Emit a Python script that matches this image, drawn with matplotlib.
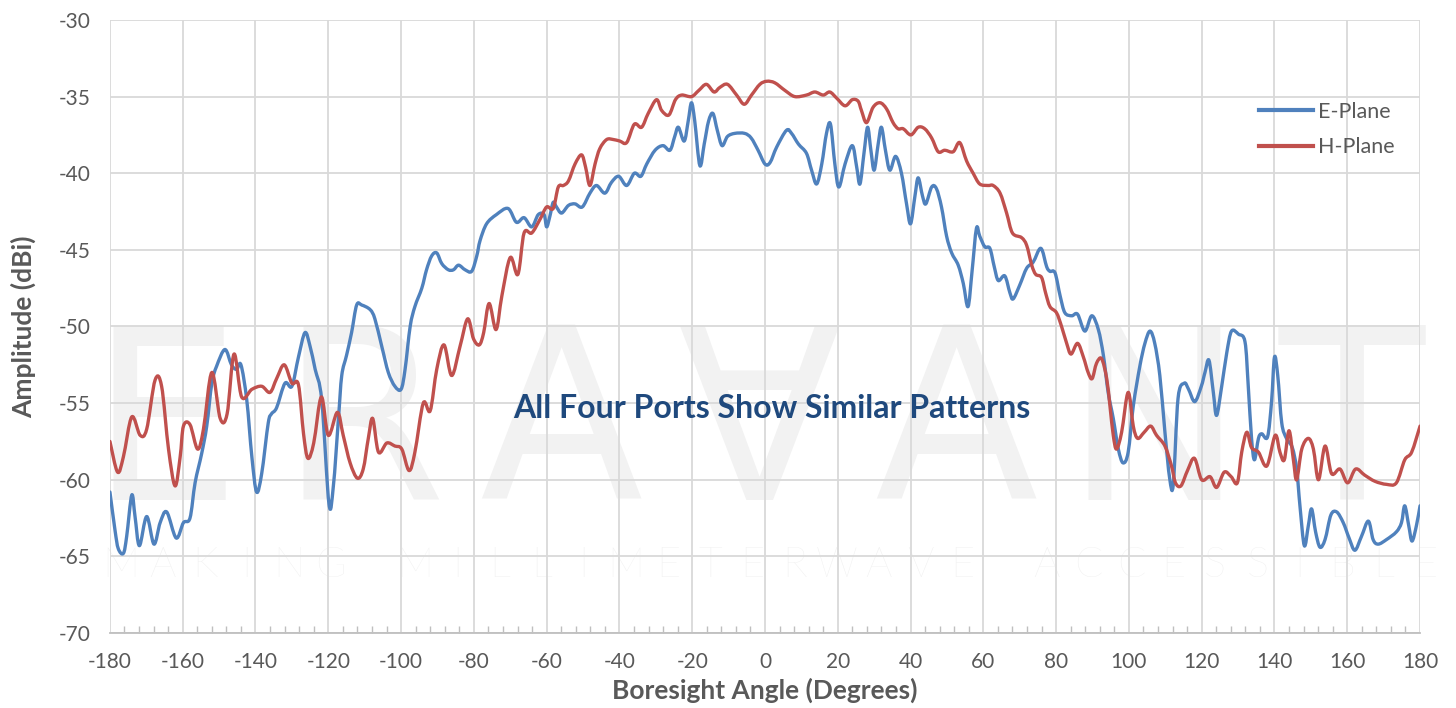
import numpy as np
import matplotlib
matplotlib.use("Agg")
import matplotlib.pyplot as plt
from matplotlib.path import Path
from matplotlib.patches import PathPatch
from matplotlib.lines import Line2D

plt.rcParams['font.family'] = ['Lato', 'DejaVu Sans']
plt.rcParams['axes.unicode_minus'] = False

# ---- measured pattern, angle (deg) / amplitude (dBi) ----
e_angle = [-180, -178.6, -177.7, -176.3, -175.4, -174.0, -173.1, -171.9, -169.9, -167.9,
           -166.2, -164.4, -161.8, -159.8, -158.0, -156.6, -154.8, -153.4, -152.0, -150.7,
           -148.4, -146.6, -145.2, -144.0, -142.4, -141.0, -139.7, -138.3, -136.5, -135.6,
           -134.2, -131.9, -130.0, -128.2, -126.4, -125.0, -123.6, -121.8, -119.8, -118.6,
           -117.2, -116.3, -115.0, -113.6, -112.2, -110.8, -108.5, -107.2, -105.3, -103.5,
           -101.7, -100.0, -98.9, -97.5, -96.2, -94.3, -93.0, -91.6, -90.2, -88.8,
           -87.0, -85.6, -84.2, -82.4, -80.6, -79.2, -78.3, -76.5, -73.8, -70.6,
           -68.3, -66.2, -64.1, -62.3, -60.7, -60.0, -59.1, -58.2, -57.3, -55.9,
           -54.0, -52.2, -50.2, -48.1, -46.3, -44.0, -42.2, -40.2, -38.0, -35.9,
           -34.1, -32.5, -30.2, -28.0, -26.1, -24.8, -23.8, -22.2, -21.1, -20.2,
           -19.3, -17.9, -16.7, -15.5, -14.3, -13.1, -11.8, -10.3, -8.3, -5.6,
           -3.8, -1.9, 0.0, 1.4, 3.2, 5.9, 7.3, 9.2, 11.4, 12.8,
           14.2, 15.6, 16.9, 18.0, 19.2, 20.3, 22.0, 24.0, 25.2, 26.1,
           27.2, 28.2, 29.1, 30.0, 31.1, 32.0, 33.1, 34.3, 35.9, 37.5,
           38.9, 40.0, 41.2, 42.1, 43.3, 44.2, 45.8, 47.1, 48.5, 49.9,
           51.3, 53.1, 54.5, 55.8, 56.9, 58.1, 59.0, 60.4, 61.8, 63.0,
           64.1, 65.9, 67.3, 68.2, 70.0, 71.9, 73.7, 75.8, 77.4, 78.3,
           79.7, 81.1, 82.4, 84.3, 85.9, 87.9, 89.8, 91.6, 93.0, 94.3,
           95.7, 97.1, 98.4, 99.8, 101.2, 103.0, 104.4, 105.8, 107.1, 108.5,
           109.9, 111.2, 112.2, 113.5, 115.2, 116.4, 118.1, 119.9, 120.9, 122.0,
           123.2, 124.1, 125.5, 126.9, 128.2, 130.1, 131.9, 132.8, 133.7, 134.5,
           135.6, 136.5, 138.1, 139.2, 140.0, 140.9, 142.0, 143.3, 144.9, 146.1,
           147.0, 148.2, 149.3, 150.2, 151.3, 152.5, 153.9, 155.5, 157.1, 158.9,
           160.5, 162.1, 163.9, 165.8, 167.1, 168.5, 170.8, 173.5, 174.9, 175.8,
           176.9, 177.8, 179.0, 180.0]
e_amp = [-60.8, -63.3, -64.5, -64.8, -63.7, -61.0, -62.4, -64.3, -62.4, -64.2,
         -62.8, -62.1, -63.8, -62.8, -62.5, -60.2, -58.3, -56.5, -53.7, -52.6,
         -51.5, -52.5, -52.8, -52.5, -54.8, -58.5, -60.8, -59.6, -56.3, -55.7,
         -55.3, -53.7, -53.9, -52.0, -50.4, -51.3, -52.8, -54.8, -61.6, -60.4,
         -56.0, -53.2, -51.9, -50.4, -48.6, -48.6, -48.9, -49.5, -51.3, -53.0,
         -53.9, -54.1, -52.8, -50.0, -48.7, -47.5, -46.3, -45.4, -45.2, -45.9,
         -46.3, -46.3, -46.0, -46.3, -46.4, -45.4, -44.4, -43.3, -42.7, -42.3,
         -43.2, -42.9, -43.5, -42.7, -42.7, -43.5, -42.8, -41.9, -42.2, -42.6,
         -42.1, -42.0, -42.2, -41.3, -40.8, -41.3, -40.6, -40.2, -40.8, -40.0,
         -40.2, -39.4, -38.5, -38.2, -38.5, -37.6, -37.0, -37.9, -36.6, -35.4,
         -36.6, -39.5, -38.1, -36.6, -36.1, -37.2, -38.2, -37.6, -37.4, -37.4,
         -37.7, -38.5, -39.4, -39.3, -38.3, -37.2, -37.4, -38.1, -38.7, -39.8,
         -40.7, -39.4, -37.4, -36.8, -39.4, -40.9, -39.4, -38.2, -39.6, -40.7,
         -38.7, -37.0, -38.5, -39.8, -38.1, -37.0, -38.5, -39.8, -38.9, -40.0,
         -42.0, -43.3, -41.5, -40.3, -41.5, -42.0, -40.9, -41.0, -42.2, -44.1,
         -45.2, -46.0, -47.2, -48.7, -46.4, -43.6, -44.1, -44.8, -44.9, -46.1,
         -47.0, -46.7, -47.8, -48.2, -47.3, -46.2, -45.8, -44.9, -46.1, -46.4,
         -46.5, -48.0, -49.1, -49.3, -49.2, -50.3, -49.3, -50.2, -51.9, -54.3,
         -56.0, -58.0, -58.9, -58.2, -55.2, -52.6, -51.1, -50.3, -51.1, -53.2,
         -56.9, -59.9, -60.3, -54.7, -53.7, -54.1, -54.9, -53.9, -53.0, -52.2,
         -54.3, -55.8, -53.9, -51.7, -50.3, -50.5, -51.0, -53.9, -57.3, -58.7,
         -57.3, -57.0, -57.2, -54.9, -52.0, -53.2, -56.3, -57.3, -57.9, -59.3,
         -61.7, -64.3, -63.0, -61.9, -63.4, -64.4, -63.9, -62.3, -62.1, -62.8,
         -63.8, -64.6, -63.7, -62.7, -63.9, -64.2, -63.9, -63.4, -62.8, -61.7,
         -63.0, -64.0, -63.0, -61.7]

h_angle = [-180, -177.9, -176.3, -174.0, -171.7, -169.9, -167.6, -165.8, -163.9, -162.1,
           -160.7, -159.8, -158.0, -155.9, -154.3, -152.0, -149.7, -147.8, -145.9, -143.8,
           -141.0, -138.3, -136.0, -134.2, -132.1, -130.0, -128.2, -126.8, -125.6, -124.0,
           -121.9, -120.0, -117.5, -115.9, -114.0, -112.0, -110.4, -109.0, -107.8, -106.2,
           -103.9, -101.7, -99.8, -97.8, -96.2, -93.9, -92.0, -90.2, -88.2, -86.1,
           -83.8, -81.7, -80.1, -78.5, -77.3, -75.8, -73.9, -72.3, -70.0, -67.9,
           -66.2, -64.1, -61.8, -60.0, -58.2, -56.8, -55.4, -54.0, -52.2, -50.4,
           -49.3, -48.1, -46.7, -45.4, -43.5, -41.7, -39.9, -38.0, -35.9, -33.9,
           -32.1, -29.8, -28.4, -26.4, -24.6, -22.9, -20.2, -18.2, -16.1, -14.0,
           -12.4, -10.3, -7.8, -5.7, -3.7, -1.4, 0.5, 2.7, 5.5, 8.2,
           11.4, 13.7, 16.0, 17.8, 19.7, 22.0, 24.0, 25.6, 26.5, 27.9,
           29.7, 31.6, 33.4, 35.2, 36.6, 38.0, 40.1, 42.1, 43.9, 45.8,
           47.6, 49.4, 51.7, 53.5, 55.4, 57.2, 59.0, 61.3, 62.7, 64.6,
           66.4, 68.0, 70.5, 71.9, 73.3, 74.4, 76.0, 77.1, 78.3, 80.1,
           81.5, 82.9, 84.1, 85.9, 87.5, 88.8, 89.9, 91.1, 92.5, 93.9,
           94.8, 95.7, 96.6, 98.0, 99.8, 101.2, 102.4, 104.2, 106.0, 107.6,
           109.9, 111.7, 112.8, 114.3, 116.1, 118.0, 120.0, 122.3, 124.1, 126.2,
           128.1, 129.8, 131.0, 132.4, 133.7, 135.6, 137.9, 140.2, 141.5, 142.7,
           144.0, 145.2, 146.1, 147.5, 149.3, 150.7, 152.1, 153.9, 155.7, 158.0,
           160.1, 162.3, 164.8, 167.6, 170.8, 173.5, 175.8, 177.7, 180.0]
h_amp = [-57.5, -59.5, -58.5, -55.9, -57.1, -56.7, -53.5, -53.9, -58.0, -60.4,
         -58.5, -56.5, -56.4, -58.0, -56.7, -53.0, -56.0, -55.7, -51.8, -54.6,
         -54.1, -53.9, -54.3, -53.4, -52.5, -53.7, -53.8, -57.0, -58.6, -57.6,
         -54.6, -57.1, -55.6, -57.1, -58.9, -59.9, -59.3, -57.3, -56.0, -58.2,
         -57.6, -57.8, -58.0, -59.4, -58.2, -55.0, -55.5, -52.8, -51.2, -53.2,
         -51.3, -49.5, -50.8, -51.2, -50.4, -48.5, -50.2, -48.0, -45.5, -46.6,
         -43.9, -43.9, -43.0, -42.2, -42.3, -40.9, -40.8, -40.5, -39.4, -38.8,
         -39.6, -40.8, -39.4, -38.4, -37.8, -37.8, -37.9, -38.0, -36.8, -37.0,
         -36.1, -35.2, -35.9, -36.2, -35.2, -34.9, -35.0, -34.6, -34.2, -34.7,
         -34.4, -34.2, -34.9, -35.5, -34.9, -34.2, -34.0, -34.1, -34.6, -35.0,
         -34.9, -34.7, -34.9, -34.7, -35.1, -35.6, -35.2, -35.3, -35.9, -36.7,
         -35.7, -35.4, -35.8, -36.7, -37.1, -37.1, -37.5, -37.0, -37.1, -37.7,
         -38.6, -38.5, -38.6, -38.0, -39.2, -40.0, -40.7, -40.8, -40.8, -41.3,
         -42.6, -43.9, -44.2, -44.7, -46.0, -46.6, -46.8, -47.8, -48.7, -49.1,
         -50.0, -51.1, -51.8, -51.1, -52.0, -53.0, -53.4, -52.4, -52.1, -53.4,
         -55.2, -57.1, -58.0, -56.9, -54.3, -56.5, -57.3, -56.9, -56.5, -57.1,
         -57.8, -59.1, -60.2, -60.4, -59.4, -58.6, -60.0, -59.8, -60.5, -59.5,
         -59.8, -60.2, -58.2, -56.9, -57.9, -58.2, -59.1, -57.1, -58.2, -58.7,
         -56.8, -58.7, -60.0, -58.0, -57.3, -58.0, -60.0, -57.8, -59.6, -59.3,
         -60.2, -59.3, -59.7, -60.1, -60.3, -60.2, -58.7, -58.2, -56.5]

series_names = ['E-Plane', 'H-Plane']
series_colors = ['#4f81bd', '#c0504d']
note = 'All Four Ports Show Similar Patterns'


def smooth_path(xs, ys):
    # cubic bezier through every point (Catmull-Rom style tangents)
    p = np.column_stack([xs, ys])
    n = len(p)
    verts = [p[0]]
    codes = [Path.MOVETO]
    for i in range(n - 1):
        p0 = p[i - 1] if i > 0 else p[i]
        p3 = p[i + 2] if i + 2 < n else p[i + 1]
        c1 = p[i] + (p[i + 1] - p0) / 6.0
        c2 = p[i + 1] - (p3 - p[i]) / 6.0
        verts += [c1, c2, p[i + 1]]
        codes += [Path.CURVE4] * 3
    return Path(verts, codes)


fig = plt.figure(figsize=(14.56, 7.08), dpi=100)
ax = fig.add_axes([0.0755, 0.1059, 0.8998, 0.8659])

# faint brand watermark behind the data
for i, ch in enumerate('ERA\u2200ANT'):
    ax.text(0.042 + i * 0.151, 0.325, ch, transform=ax.transAxes, ha='center', va='center',
            fontsize=172, color='#f2f2f2', family=['DejaVu Sans'], zorder=0.1)
tag = 'MAKING MILLIMETERWAVE ACCESSIBLE'
for i, ch in enumerate(tag):
    ax.text(0.008 + i * 0.03214, 0.11, ch, transform=ax.transAxes, ha='center', va='center',
            fontsize=30, color='#efefef', fontweight='light', zorder=0.1)

for xs, ys, c in zip([e_angle, h_angle], [e_amp, h_amp], series_colors):
    ax.add_patch(PathPatch(smooth_path(xs, ys), facecolor='none', edgecolor=c,
                           lw=2.4, capstyle='round', joinstyle='round', zorder=3))

ax.set_xlim(-180, 180)
ax.set_ylim(-70, -30)
ax.set_xticks(np.arange(-180, 181, 20))
ax.set_xticks(np.arange(-180, 181, 4), minor=True)
ax.set_yticks(np.arange(-70, -29, 5))
ax.grid(True, which='major', color='#d9d9d9', lw=1.3)
ax.set_axisbelow(True)
for s in ['top', 'right', 'left']:
    ax.spines[s].set_visible(False)
ax.spines['bottom'].set_color('#bfbfbf')
ax.spines['bottom'].set_linewidth(1.3)
ax.tick_params(axis='x', which='minor', direction='in', length=5, color='#bfbfbf', width=1)
ax.tick_params(axis='x', which='major', length=0, pad=14, labelsize=15, labelcolor='#595959')
ax.tick_params(axis='y', length=0, pad=14, labelsize=15, labelcolor='#595959')

ax.set_xlabel('Boresight Angle (Degrees)', fontsize=19, fontweight='bold', color='#595959', labelpad=4)
ax.set_ylabel('Amplitude (dBi)', fontsize=19, fontweight='bold', color='#595959', labelpad=16)

ax.text(0.505, 0.367, note, transform=ax.transAxes, ha='center', va='center',
        fontsize=23, fontweight='bold', color='#1f497d', zorder=4)

handles = [Line2D([], [], color=c, lw=3) for c in series_colors]
leg = ax.legend(handles, series_names, loc='upper left', bbox_to_anchor=(0.869, 0.884),
                frameon=False, borderpad=0, fontsize=15.5, handlelength=2.5, handletextpad=0.25,
                labelspacing=0.72, labelcolor='#595959')

fig.savefig('out.png', dpi=100, facecolor='white')
